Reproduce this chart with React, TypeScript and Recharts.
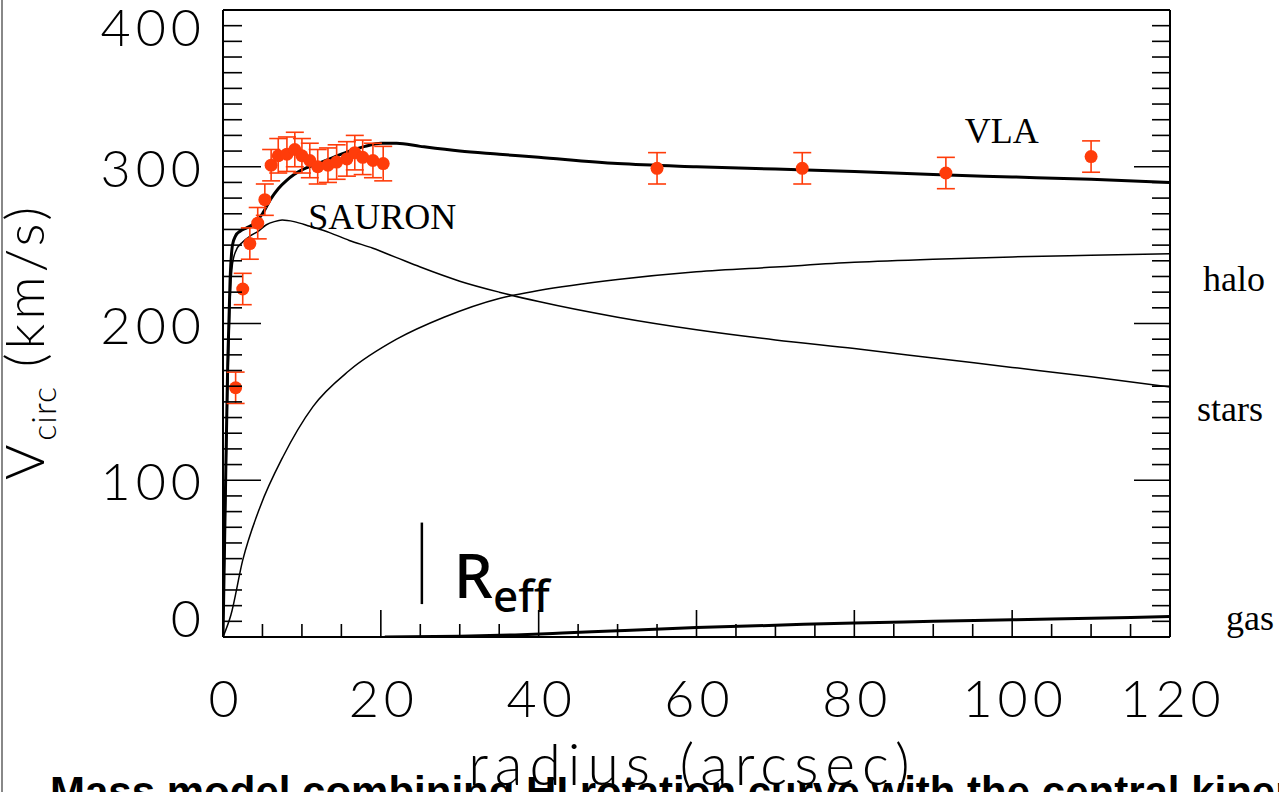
import React from "react";
import {
  ComposedChart,
  ErrorBar,
  Line,
  ReferenceDot,
  ReferenceLine,
  Scatter,
  XAxis,
  YAxis,
} from "recharts";

// radius (arcsec) vs circular velocity (km/s)
const TOTAL = [
  { r: 0, v: 0 }, { r: 0.3, v: 90 }, { r: 0.6, v: 175 }, { r: 0.9, v: 228 },
  { r: 1.2, v: 250 }, { r: 1.6, v: 256 }, { r: 2.2, v: 259 }, { r: 3, v: 261 },
  { r: 4, v: 264 }, { r: 5, v: 270 }, { r: 6, v: 279 }, { r: 7, v: 286 },
  { r: 8, v: 291 }, { r: 9, v: 295 }, { r: 10, v: 298 }, { r: 12, v: 302 },
  { r: 14, v: 306 }, { r: 16, v: 310 }, { r: 18, v: 313 }, { r: 20, v: 315 },
  { r: 22, v: 315 }, { r: 25, v: 313 }, { r: 30, v: 310 }, { r: 35, v: 308 },
  { r: 40, v: 306 }, { r: 50, v: 302 }, { r: 60, v: 300 }, { r: 70, v: 298.5 },
  { r: 80, v: 297 }, { r: 90, v: 295 }, { r: 100, v: 293.5 }, { r: 110, v: 292 },
  { r: 120, v: 290 },
];

const STARS = [
  { r: 0, v: 0 }, { r: 0.3, v: 80 }, { r: 0.6, v: 160 }, { r: 0.9, v: 215 },
  { r: 1.2, v: 238 }, { r: 1.6, v: 246 }, { r: 2.5, v: 252 }, { r: 3.5, v: 256 },
  { r: 4.5, v: 259 }, { r: 5.5, v: 263 }, { r: 6.5, v: 265 }, { r: 7.5, v: 266 },
  { r: 9, v: 265 }, { r: 11, v: 262 }, { r: 13.5, v: 258 }, { r: 16, v: 253 },
  { r: 19, v: 248 }, { r: 22, v: 242 }, { r: 25, v: 236 }, { r: 30, v: 227 },
  { r: 35, v: 220 }, { r: 40, v: 214 }, { r: 50, v: 204 }, { r: 60, v: 196 },
  { r: 70, v: 189.5 }, { r: 80, v: 184 }, { r: 90, v: 178 }, { r: 100, v: 172 },
  { r: 110, v: 166 }, { r: 120, v: 159.5 },
];

const HALO = [
  { r: 0, v: 0 }, { r: 1, v: 14 }, { r: 2.5, v: 49 }, { r: 4.7, v: 83 },
  { r: 7.6, v: 115 }, { r: 11.4, v: 147 }, { r: 16, v: 170 }, { r: 22, v: 190 },
  { r: 28, v: 204 }, { r: 35, v: 216 }, { r: 40, v: 221 }, { r: 50, v: 228 },
  { r: 60, v: 233 }, { r: 70, v: 236 }, { r: 80, v: 239 }, { r: 90, v: 241 },
  { r: 100, v: 242.5 }, { r: 110, v: 243.5 }, { r: 120, v: 244.5 },
];

const GAS = [
  { r: 20.5, v: 0 }, { r: 30, v: 0.5 }, { r: 37, v: 1.3 }, { r: 43, v: 2.5 },
  { r: 50, v: 4 }, { r: 60, v: 6 }, { r: 70, v: 7.5 }, { r: 80, v: 9 },
  { r: 90, v: 10 }, { r: 100, v: 11 }, { r: 110, v: 12 }, { r: 120, v: 13 },
];

// SAURON (inner) and VLA HI (outer) measurements with 1-sigma errors
const SAURON = [
  { r: 1.6, v: 159, e: 10 }, { r: 2.5, v: 222, e: 10 }, { r: 3.4, v: 251, e: 10 },
  { r: 4.4, v: 264, e: 10 }, { r: 5.3, v: 279, e: 10 }, { r: 6.1, v: 301, e: 10 },
  { r: 7, v: 307, e: 11 }, { r: 8.1, v: 308, e: 11 }, { r: 9.1, v: 311, e: 11 },
  { r: 10, v: 307, e: 11 }, { r: 11, v: 304, e: 11 }, { r: 12, v: 300, e: 11 },
  { r: 13.3, v: 301, e: 11 }, { r: 14.4, v: 303, e: 11 }, { r: 15.7, v: 305, e: 11 },
  { r: 16.7, v: 309, e: 11 }, { r: 17.7, v: 306, e: 11 }, { r: 19, v: 304, e: 11 },
  { r: 20.3, v: 302, e: 11 },
];

const VLA = [
  { r: 55, v: 299, e: 10 }, { r: 73.4, v: 299, e: 10 },
  { r: 91.6, v: 296, e: 10 }, { r: 110, v: 306.5, e: 10 },
];

const X_TICKS = [0, 5, 10, 15, 20, 25, 30, 35, 40, 45, 50, 55, 60, 65, 70, 75, 80, 85, 90, 95, 100, 105, 110, 115, 120];
const Y_TICKS = [
  0, 10, 20, 30, 40, 50, 60, 70, 80, 90, 100, 110, 120, 130, 140, 150, 160, 170, 180, 190, 200,
  210, 220, 230, 240, 250, 260, 270, 280, 290, 300, 310, 320, 330, 340, 350, 360, 370, 380, 390, 400,
];

const INK = "#000";
const RED = "#ff3c0a";
const THIN = "Lato";
const THIN_W = 300;
const SERIF = "Liberation Serif";

const PLOT_TOP = 10;
const PLOT_BOTTOM = 637;

const BottomTick = ({ x, y, payload }: any) => {
  const major = payload.value % 20 === 0;
  return (
    <g>
      <line x1={x} y1={y} x2={x} y2={y - (major ? 27 : 13)} stroke={INK} strokeWidth={1.6} />
      {major && (
        <text x={x + 3} y={y + 80} textAnchor="middle" fontFamily={THIN} fontWeight={THIN_W}
          fontSize={52} letterSpacing={5} fill={INK}>
          {payload.value}
        </text>
      )}
    </g>
  );
};

const TopTick = ({ x, y, payload }: any) => {
  const major = payload.value % 20 === 0;
  return <line x1={x} y1={y} x2={x} y2={y + (major ? 23 : 13)} stroke={INK} strokeWidth={1.6} />;
};

const LeftTick = ({ x, y, payload }: any) => {
  const major = payload.value % 100 === 0;
  // labels are kept inside the frame at the ends, like IDL does
  const mid = Math.min(Math.max(y + 2, PLOT_TOP + 18), PLOT_BOTTOM - 18);
  return (
    <g>
      <line x1={x} y1={y} x2={x + (major ? 38 : 19)} y2={y} stroke={INK} strokeWidth={1.6} />
      {major && (
        <text x={x - 17} y={mid + 18} textAnchor="end" fontFamily={THIN} fontWeight={THIN_W}
          fontSize={52} letterSpacing={5} fill={INK}>
          {payload.value}
        </text>
      )}
    </g>
  );
};

const RightTick = ({ x, y, payload }: any) => {
  const major = payload.value % 100 === 0;
  return <line x1={x} y1={y} x2={x - (major ? 36 : 18)} y2={y} stroke={INK} strokeWidth={1.6} />;
};

const XTitle = ({ viewBox }: any) => (
  <text x={viewBox.x + viewBox.width / 2 - 4} y={viewBox.y + 148} textAnchor="middle"
    fontFamily={THIN} fontWeight={THIN_W} fontSize={57} letterSpacing={7} fill={INK}>
    radius (arcsec)
  </text>
);

const YTitle = ({ viewBox }: any) => {
  const cx = 44;
  const cy = viewBox.y + viewBox.height / 2 + 18;
  return (
    <text x={cx} y={cy} transform={`rotate(-90, ${cx}, ${cy})`} textAnchor="middle"
      fontFamily={THIN} fontWeight={THIN_W} fontSize={54} letterSpacing={4} fill={INK}>
      V
      <tspan dy={12} fontSize={34} letterSpacing={1}>circ</tspan>
      <tspan dy={-12}> (km/s)</tspan>
    </text>
  );
};

const note = (text: string, dx = 0) => ({ viewBox }: any) => (
  <text x={viewBox.x + dx} y={viewBox.y} fontFamily={SERIF} fontSize={36} fill={INK}>
    {text}
  </text>
);

const ReffLabel = ({ viewBox }: any) => (
  <text x={viewBox.x + 32} y={viewBox.y + viewBox.height - 6} fontFamily="Noto Sans"
    fontWeight={500} fontSize={62} fill={INK}>
    R
    <tspan dy={14} fontSize={44}>eff</tspan>
  </text>
);

const dot = (p: any) => <circle cx={p.cx} cy={p.cy} r={6.5} fill={RED} />;

export default function App() {
  return (
    <div style={{ position: "absolute", left: 0, top: 0, width: 1279, height: 792, overflow: "hidden", background: "#fff" }}>
      <div style={{ position: "absolute", left: 1, top: 0, width: 2, height: 792, background: "#888" }} />
      <ComposedChart width={1279} height={792} margin={{ top: 0, right: 0, bottom: 0, left: 0 }}>
        <XAxis xAxisId="b" type="number" dataKey="r" domain={[0, 120]} ticks={X_TICKS} interval={0}
          height={155} tickSize={0} tickMargin={0} tickLine={false} tick={BottomTick}
          stroke={INK} strokeWidth={2} allowDataOverflow label={XTitle} />
        <XAxis xAxisId="t" orientation="top" type="number" domain={[0, 120]} ticks={X_TICKS} interval={0}
          height={10} tickSize={0} tickMargin={0} tickLine={false} tick={TopTick}
          stroke={INK} strokeWidth={2} allowDataOverflow />
        <YAxis yAxisId="l" type="number" dataKey="v" domain={[0, 400]} ticks={Y_TICKS} interval={0}
          width={223} tickSize={0} tickMargin={0} tickLine={false} tick={LeftTick}
          stroke={INK} strokeWidth={2} allowDataOverflow label={YTitle} />
        <YAxis yAxisId="rt" orientation="right" type="number" domain={[0, 400]} ticks={Y_TICKS} interval={0}
          width={109} tickSize={0} tickMargin={0} tickLine={false} tick={RightTick}
          stroke={INK} strokeWidth={2} allowDataOverflow />

        <Line data={HALO} xAxisId="b" yAxisId="l" dataKey="v" type="monotone" dot={false}
          stroke={INK} strokeWidth={1.5} isAnimationActive={false} />
        <Line data={STARS} xAxisId="b" yAxisId="l" dataKey="v" type="monotone" dot={false}
          stroke={INK} strokeWidth={1.5} isAnimationActive={false} />
        <Line data={GAS} xAxisId="b" yAxisId="l" dataKey="v" type="monotone" dot={false}
          stroke={INK} strokeWidth={3} isAnimationActive={false} />
        <Line data={TOTAL} xAxisId="b" yAxisId="l" dataKey="v" type="monotone" dot={false}
          stroke={INK} strokeWidth={3} isAnimationActive={false} />

        <Scatter data={SAURON} xAxisId="b" yAxisId="l" dataKey="v" shape={dot} isAnimationActive={false}>
          <ErrorBar dataKey="e" direction="y" width={9} stroke={RED} strokeWidth={1.6} isAnimationActive={false} />
        </Scatter>
        <Scatter data={VLA} xAxisId="b" yAxisId="l" dataKey="v" shape={dot} isAnimationActive={false}>
          <ErrorBar dataKey="e" direction="y" width={9} stroke={RED} strokeWidth={1.6} isAnimationActive={false} />
        </Scatter>

        <ReferenceLine xAxisId="b" yAxisId="l" segment={[{ x: 25.2, y: 21 }, { x: 25.2, y: 73 }]}
          stroke={INK} strokeWidth={2.5} ifOverflow="visible" label={ReffLabel} />

        <ReferenceDot xAxisId="b" yAxisId="l" x={10.8} y={260} r={0} ifOverflow="visible" label={note("SAURON")} />
        <ReferenceDot xAxisId="b" yAxisId="l" x={94} y={315} r={0} ifOverflow="visible" label={note("VLA")} />
        <ReferenceDot xAxisId="b" yAxisId="l" x={120} y={220.7} r={0} ifOverflow="visible" label={note("halo", 33)} />
        <ReferenceDot xAxisId="b" yAxisId="l" x={120} y={137.8} r={0} ifOverflow="visible" label={note("stars", 27)} />
        <ReferenceDot xAxisId="b" yAxisId="l" x={120} y={4.5} r={0} ifOverflow="visible" label={note("gas", 56)} />
      </ComposedChart>
      <div style={{ position: "absolute", left: 50, top: 771, fontFamily: "Liberation Sans", fontWeight: 700,
        fontSize: 42, lineHeight: "42px", whiteSpace: "nowrap", color: "#000" }}>
        Mass model combining HI rotation curve with the central kinematics
      </div>
    </div>
  );
}
